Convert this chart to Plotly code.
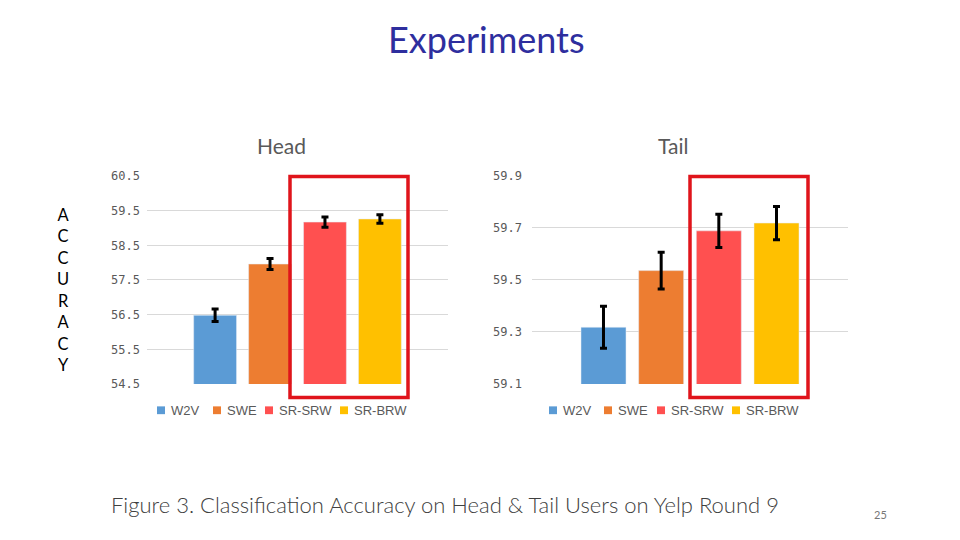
import plotly.graph_objects as go

series = ["W2V", "SWE", "SR-SRW", "SR-BRW"]
colors = ["#5B9BD5", "#ED7D31", "#FF5050", "#FFC000"]
head_vals = [56.48, 57.96, 59.17, 59.26]
head_err = [0.18, 0.16, 0.15, 0.12]
tail_vals = [59.318, 59.536, 59.689, 59.719]
tail_err = [0.081, 0.071, 0.064, 0.064]
head_ticks = [54.5, 55.5, 56.5, 57.5, 58.5, 59.5, 60.5]
tail_ticks = [59.1, 59.3, 59.5, 59.7, 59.9]

W, H = 960, 540
def px(x):
    return x / W
def py(y):
    return 1 - y / H

fig = go.Figure()
for i, s in enumerate(series):
    fig.add_trace(go.Bar(
        x=["Head"], y=[head_vals[i]], name=s, marker_color=colors[i],
        error_y=dict(type="data", array=[head_err[i]], color="black", thickness=3, width=3.5),
        xaxis="x", yaxis="y", showlegend=False,
    ))
for i, s in enumerate(series):
    fig.add_trace(go.Bar(
        x=["Tail"], y=[tail_vals[i]], name=s, marker_color=colors[i],
        error_y=dict(type="data", array=[tail_err[i]], color="black", thickness=3, width=3.5),
        xaxis="x2", yaxis="y2", showlegend=False,
    ))

tickfont = dict(family="DejaVu Sans Mono", size=12, color="#595959")
ydom = [py(387), py(173.5)]
fig.update_layout(
    width=W, height=H, margin=dict(l=0, r=0, t=0, b=0),
    paper_bgcolor="white", plot_bgcolor="white",
    barmode="group", bargap=0.27, bargroupgap=0.22,
    xaxis=dict(domain=[px(147), px(448)], showticklabels=False, showgrid=False, zeroline=False),
    yaxis=dict(domain=ydom, range=[54.5, 60.5], tickvals=head_ticks, tickformat=".1f",
               gridcolor="#d9d9d9", zeroline=False, tickfont=tickfont, ticklabelstandoff=6),
    xaxis2=dict(domain=[px(532), px(848)], anchor="y2", showticklabels=False, showgrid=False, zeroline=False),
    yaxis2=dict(domain=ydom, anchor="x2", range=[59.1, 59.9], tickvals=tail_ticks, tickformat=".1f",
                gridcolor="#d9d9d9", zeroline=False, tickfont=tickfont, ticklabelstandoff=9),
    showlegend=False,
)

# red highlight boxes
for (x0, x1) in [(290, 408), (690, 808)]:
    fig.add_shape(type="rect", xref="paper", yref="paper",
                  x0=px(x0), x1=px(x1), y0=py(401), y1=py(174),
                  line=dict(color="#E0141B", width=3.5))

legend_sq_x = {"head": [157, 213, 265, 340], "tail": [549, 604, 657, 732]}
for key in ["head", "tail"]:
    for i, s in enumerate(series):
        x0 = legend_sq_x[key][i]
        fig.add_shape(type="rect", xref="paper", yref="paper",
                      x0=px(x0), x1=px(x0 + 8), y0=py(418), y1=py(410),
                      line=dict(width=0), fillcolor=colors[i])
        fig.add_annotation(xref="paper", yref="paper", showarrow=False,
                           x=px(x0 + 12), y=py(414), xanchor="left", yanchor="middle",
                           text=s, font=dict(family="Liberation Sans", size=13, color="#595959"))

ann = [
    dict(text="Experiments", x=px(486), y=py(33), font=dict(family="Lato", size=36, color="#2E2E9E")),
    dict(text="Head", x=px(281), y=py(142), font=dict(family="Lato", size=21, color="#595959")),
    dict(text="Tail", x=px(673), y=py(142), font=dict(family="Lato", size=21, color="#595959")),
    dict(text="<br>".join(list("ACCURACY")), x=px(63), y=py(291),
         font=dict(family="Lato", size=16.5, color="#000000")),
    dict(text="Figure 3. Classification Accuracy on Head &amp; Tail Users on Yelp Round 9",
         x=px(445), y=py(511), font=dict(family="Lato", size=22, color="#404040", weight=300)),
    dict(text="25", x=px(880), y=py(521), font=dict(family="Lato", size=11, color="#777777")),
]
for a in ann:
    fig.add_annotation(xref="paper", yref="paper", showarrow=False,
                       xanchor="center", yanchor="middle", **a)

fig.write_html("out.html", post_script="document.body.style.margin='0';",
               config={"displayModeBar": False})
